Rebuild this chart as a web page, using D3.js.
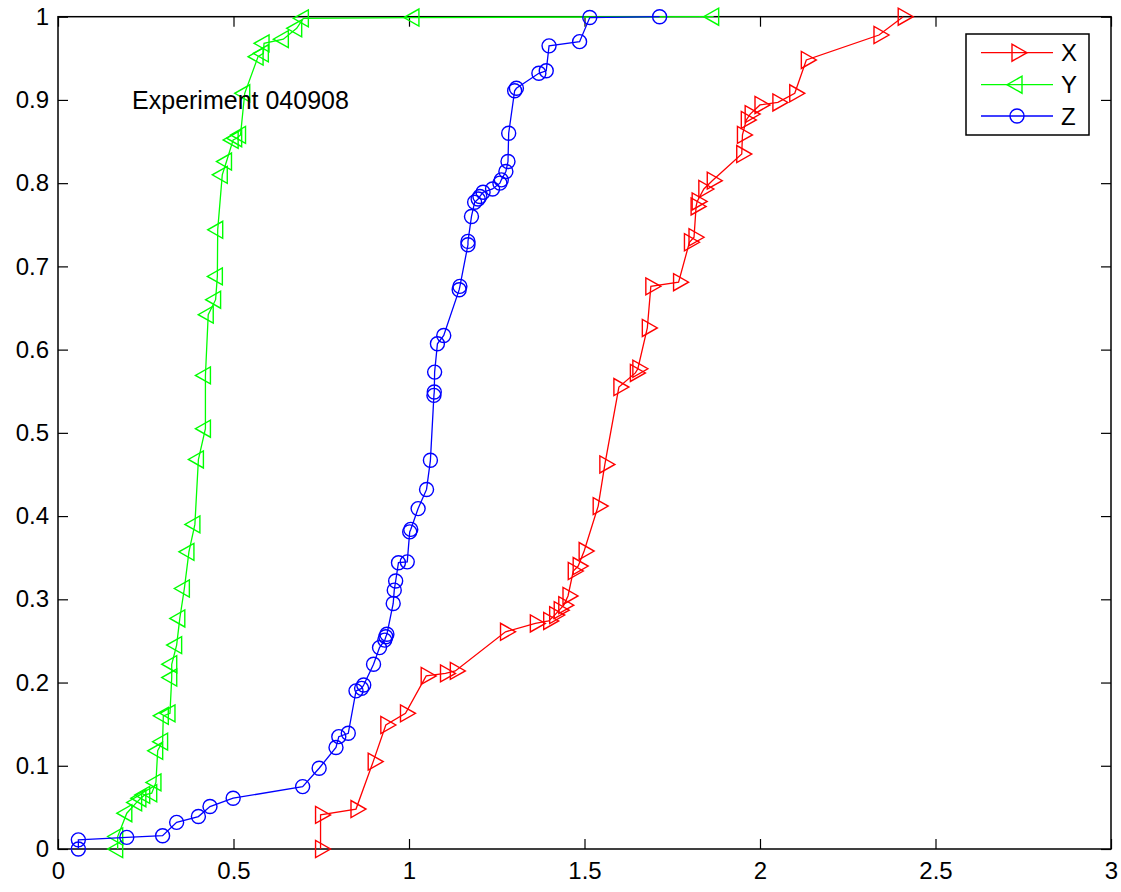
<!DOCTYPE html>
<html lang="en">
<head>
  <meta charset="UTF-8">
  <title>cdf-experiment</title>
  <script src="https://cdn.jsdelivr.net/npm/d3@7"></script>
  <style>
    body { margin: 0; background: #fff; }
    svg text { font-family: "Liberation Sans", Arial, sans-serif; font-size: 24px; fill: #000; }
    svg text.note { font-size: 25px; }
  </style>
</head>
<body>
<script>
// series X (red, right triangles)
let xX = [0.748, 0.748, 0.849, 0.898, 0.934, 0.990, 1.049, 1.104, 1.132, 1.275, 1.360, 1.398, 1.415, 1.428,
  1.441, 1.453, 1.468, 1.482, 1.499, 1.539, 1.558, 1.598, 1.645, 1.652, 1.679, 1.689, 1.768, 1.799, 1.812,
  1.818, 1.821, 1.840, 1.864, 1.948, 1.950, 1.961, 1.972, 2.000, 2.051, 2.099, 2.132, 2.339, 2.408];
let yX = [0, 0.041, 0.048, 0.105, 0.149, 0.163, 0.208, 0.211, 0.214, 0.261, 0.271, 0.274, 0.281, 0.287,
  0.293, 0.304, 0.334, 0.340, 0.358, 0.412, 0.462, 0.555, 0.572, 0.577, 0.626, 0.676, 0.681, 0.729, 0.735,
  0.772, 0.778, 0.793, 0.803, 0.835, 0.858, 0.876, 0.883, 0.894, 0.897, 0.908, 0.948, 0.978, 1.0];

// series Y (green, left triangles)
let xY = [0.170, 0.170, 0.196, 0.224, 0.236, 0.247, 0.267, 0.279, 0.284, 0.298, 0.300, 0.319, 0.324, 0.324,
  0.338, 0.347, 0.360, 0.373, 0.390, 0.400, 0.420, 0.420, 0.428, 0.449, 0.454, 0.455, 0.468, 0.480, 0.499,
  0.509, 0.520, 0.532, 0.570, 0.585, 0.587, 0.642, 0.680, 0.699, 1.014, 1.868];
let yY = [0, 0.015, 0.043, 0.056, 0.061, 0.065, 0.067, 0.080, 0.118, 0.129, 0.160, 0.163, 0.206, 0.222,
  0.245, 0.277, 0.313, 0.357, 0.390, 0.468, 0.505, 0.569, 0.642, 0.660, 0.688, 0.744, 0.810, 0.826, 0.852,
  0.854, 0.858, 0.908, 0.952, 0.956, 0.968, 0.973, 0.986, 0.998, 0.999, 1.0];

// series Z (blue, circles)
let xZ = [0.058, 0.058, 0.196, 0.298, 0.338, 0.400, 0.433, 0.499, 0.697, 0.744, 0.792, 0.800, 0.827, 0.849,
  0.865, 0.871, 0.899, 0.916, 0.931, 0.934, 0.937, 0.955, 0.958, 0.962, 0.970, 0.995, 1.002, 1.005, 1.026,
  1.050, 1.061, 1.071, 1.072, 1.073, 1.081, 1.099, 1.143, 1.145, 1.168, 1.168, 1.178, 1.187, 1.197, 1.202,
  1.211, 1.238, 1.259, 1.263, 1.276, 1.282, 1.284, 1.301, 1.306, 1.370, 1.391, 1.399, 1.486, 1.515, 1.714];
let yZ = [0, 0.011, 0.014, 0.016, 0.032, 0.039, 0.051, 0.061, 0.075, 0.097, 0.122, 0.135, 0.139, 0.190,
  0.193, 0.197, 0.222, 0.242, 0.251, 0.255, 0.258, 0.295, 0.311, 0.322, 0.344, 0.345, 0.381, 0.384, 0.409,
  0.432, 0.467, 0.545, 0.549, 0.573, 0.607, 0.617, 0.672, 0.676, 0.726, 0.730, 0.760, 0.777, 0.781, 0.784,
  0.789, 0.793, 0.800, 0.804, 0.814, 0.826, 0.860, 0.911, 0.914, 0.932, 0.935, 0.965, 0.970, 0.999, 1.0];

let seriesNames = ['X', 'Y', 'Z'];
let xTicks = [0, 0.5, 1, 1.5, 2, 2.5, 3];
let yTicks = [0, 0.1, 0.2, 0.3, 0.4, 0.5, 0.6, 0.7, 0.8, 0.9, 1];
let note = 'Experiment 040908';
let notePos = [0.211, 0.9];

let width = 1121;
let height = 892;
let plotLeft = 58, plotRight = 1111, plotTop = 16.7, plotBottom = 849;

let svg = d3.select('body')
  .append('svg')
  .attr('width', width)
  .attr('height', height);

let x = d3.scaleLinear().domain([0, 3]).range([plotLeft, plotRight]);
let y = d3.scaleLinear().domain([0, 1]).range([plotBottom, plotTop]);

let series = [
  { name: seriesNames[0], xs: xX, ys: yX, color: '#ff0000', marker: 'right' },
  { name: seriesNames[1], xs: xY, ys: yY, color: '#00ff00', marker: 'left' },
  { name: seriesNames[2], xs: xZ, ys: yZ, color: '#0000ff', marker: 'circle' }
];

// box
svg.append('rect')
  .attr('x', plotLeft).attr('y', plotTop)
  .attr('width', plotRight - plotLeft).attr('height', plotBottom - plotTop)
  .attr('fill', 'none').attr('stroke', '#000').attr('stroke-width', 1.5);

function renderAxes() {
  let tickLen = 10;
  let fmt = d => String(d);

  let gx = svg.append('g')
    .attr('transform', 'translate(0,' + plotBottom + ')')
    .call(d3.axisBottom(x).tickValues(xTicks).tickFormat(fmt)
      .tickSizeInner(-tickLen).tickSizeOuter(0).tickPadding(13));
  let gy = svg.append('g')
    .attr('transform', 'translate(' + plotLeft + ',0)')
    .call(d3.axisLeft(y).tickValues(yTicks).tickFormat(fmt)
      .tickSizeInner(-tickLen).tickSizeOuter(0).tickPadding(9));
  // mirrored ticks on top and right
  let gt = svg.append('g')
    .attr('transform', 'translate(0,' + plotTop + ')')
    .call(d3.axisTop(x).tickValues(xTicks).tickFormat('')
      .tickSizeInner(-tickLen).tickSizeOuter(0));
  let gr = svg.append('g')
    .attr('transform', 'translate(' + plotRight + ',0)')
    .call(d3.axisRight(y).tickValues(yTicks).tickFormat('')
      .tickSizeInner(-tickLen).tickSizeOuter(0));

  [gx, gy, gt, gr].forEach(g => {
    g.select('.domain').remove();
    g.attr('font-size', null).attr('font-family', null);
    g.selectAll('line').attr('stroke', '#000').attr('stroke-width', 1.2);
    g.selectAll('text').attr('fill', '#000');
  });
}

function markerPath(type) {
  if (type === 'right') return 'M-5,-8.5L-5,8.5L10,0Z';
  if (type === 'left') return 'M5,-8.5L5,8.5L-10,0Z';
  return null;
}

function drawMarker(g, type, color) {
  if (type === 'circle') {
    g.append('circle').attr('r', 7)
      .attr('fill', 'none').attr('stroke', color).attr('stroke-width', 1.4);
  } else {
    g.append('path').attr('d', markerPath(type))
      .attr('fill', 'none').attr('stroke', color).attr('stroke-width', 1.4)
      .attr('stroke-linejoin', 'miter');
  }
}

function renderSeries() {
  let line = d3.line().x(d => x(d[0])).y(d => y(d[1]));
  series.forEach(s => {
    let pts = s.xs.map((v, i) => [v, s.ys[i]]);
    let g = svg.append('g').attr('class', 'series-' + s.name);
    g.append('path')
      .datum(pts)
      .attr('d', line)
      .attr('fill', 'none')
      .attr('stroke', s.color)
      .attr('stroke-width', 1.3);
    g.selectAll('g.pt')
      .data(pts)
      .enter()
      .append('g')
      .attr('class', 'pt')
      .attr('transform', d => 'translate(' + x(d[0]) + ',' + y(d[1]) + ')')
      .each(function () { drawMarker(d3.select(this), s.marker, s.color); });
  });
}

function renderNote() {
  svg.append('text')
    .attr('class', 'note')
    .attr('x', x(notePos[0]))
    .attr('y', y(notePos[1]))
    .attr('dy', '0.36em')
    .text(note);
}

function renderLegend() {
  let lx = 966, ly = 34, lw = 123, lh = 101;
  let g = svg.append('g').attr('class', 'legend');
  g.append('rect')
    .attr('x', lx).attr('y', ly).attr('width', lw).attr('height', lh)
    .attr('fill', '#fff').attr('stroke', '#000').attr('stroke-width', 1.5);
  let rowY = [52.7, 84.7, 116];
  series.forEach((s, i) => {
    let row = g.append('g').attr('transform', 'translate(0,' + rowY[i] + ')');
    row.append('line')
      .attr('x1', 981).attr('x2', 1053).attr('y1', 0).attr('y2', 0)
      .attr('stroke', s.color).attr('stroke-width', 1.3);
    drawMarker(row.append('g').attr('transform', 'translate(1017,0)'), s.marker, s.color);
    row.append('text')
      .attr('x', 1061).attr('y', 0).attr('dy', '0.36em')
      .text(s.name);
  });
}

renderAxes();
renderSeries();
renderNote();
renderLegend();
</script>
</body>
</html>
